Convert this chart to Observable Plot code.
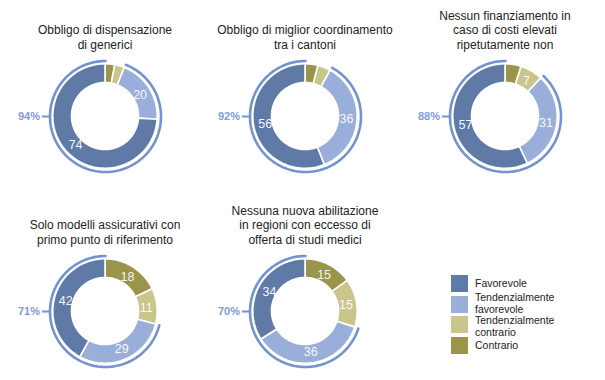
<!DOCTYPE html>
<html>
<head>
<meta charset="utf-8">
<script src="https://cdn.jsdelivr.net/npm/d3@7"></script>
<script src="https://cdn.jsdelivr.net/npm/@observablehq/plot@0.6"></script>
<style>
  html, body { margin: 0; padding: 0; background: #fff; }
  #root { position: relative; width: 605px; height: 380px; overflow: hidden;
          font-family: "Liberation Sans", Arial, sans-serif; color: #222; }
  .title { position: absolute; width: 200px; text-align: center; font-size: 12px;
           line-height: 14.5px; }
  .donut { position: absolute; }
  .legend { position: absolute; left: 451px; top: 275px; font-size: 10.5px; }
  .lrow { position: relative; height: 17px; margin-bottom: 3.7px; }
  .sw { position: absolute; left: 0; top: 0; width: 17px; height: 17px; }
  .lt { position: absolute; left: 24px; top: 50%;
        line-height: 11.8px; white-space: nowrap; }
</style>
</head>
<body>
<div id="root"></div>
<script>
// ---- data ----
const categories = ["Contrario", "Tendenzialmente contrario", "Tendenzialmente favorevole", "Favorevole"];
const legendLabels = [["Favorevole"], ["Tendenzialmente", "favorevole"], ["Tendenzialmente", "contrario"], ["Contrario"]];
const legendOrder = ["Favorevole", "Tendenzialmente favorevole", "Tendenzialmente contrario", "Contrario"];
const colors = ["#9b954c", "#c9c58b", "#99aed8", "#5f7aa7"];
const titles = [
  ["Obbligo di dispensazione", "di generici"],
  ["Obbligo di miglior coordinamento", "tra i cantoni"],
  ["Nessun finanziamento in", "caso di costi elevati", "ripetutamente non"],
  ["Solo modelli assicurativi con", "primo punto di riferimento"],
  ["Nessuna nuova abilitazione", "in regioni con eccesso di", "offerta di studi medici"]
];
const contrario      = [3, 4, 5, 18, 15];
const tendContrario  = [3, 4, 7, 11, 15];
const tendFavorevole = [20, 36, 31, 29, 36];
const favorevole     = [74, 56, 57, 42, 34];
const favorTotals    = ["94%", "92%", "88%", "71%", "70%"];

// ---- layout / style ----
const centers = [[105, 116], [305, 116], [505, 116], [105, 310.5], [305, 310.5]];
const titleBottoms = [52, 52, 52, 247, 247];
const R = 52.2, r = 33.5, arcR = 55.5, labelR = 41;
const arcColor = "#7393d0", pctColor = "#7f9cd6";
const W = 200, H = 150;
const legendShift = [0, -0.6, 2.1, 0];

const root = document.getElementById("root");

for (let k = 0; k < 5; k++) {
  const vals = [contrario[k], tendContrario[k], tendFavorevole[k], favorevole[k]];
  const total = d3.sum(vals);
  const ring = [], labels = [];
  let acc = 0;
  vals.forEach((v, i) => {
    const s = acc / total, e = (acc + v) / total;
    const n = Math.max(2, Math.ceil((e - s) * 200));
    for (let j = 0; j <= n; j++) {
      const a = 2 * Math.PI * (s + (e - s) * j / n);
      ring.push({cat: categories[i], xo: R * Math.sin(a), yo: R * Math.cos(a), xi: r * Math.sin(a), yi: r * Math.cos(a)});
    }
    if (v >= 7) {
      const m = 2 * Math.PI * (s + e) / 2;
      labels.push({x: labelR * Math.sin(m), y: labelR * Math.cos(m), t: String(v)});
    }
    acc += v;
  });
  // outer arc over favourable share
  const favStart = (contrario[k] + tendContrario[k]) / total;
  const arc = [];
  const na = 200;
  for (let j = 0; j <= na; j++) {
    const a = 2 * Math.PI * (favStart + (1 - favStart) * j / na);
    arc.push({x: arcR * Math.sin(a), y: arcR * Math.cos(a)});
  }

  const plot = Plot.plot({
    width: W, height: H, margin: 0,
    x: {domain: [-W / 2, W / 2], axis: null},
    y: {domain: [-H / 2, H / 2], axis: null},
    color: {domain: categories, range: colors},
    style: {background: "transparent", overflow: "visible", fontFamily: "Liberation Sans, Arial, sans-serif"},
    marks: [
      Plot.area(ring, {x1: "xo", y1: "yo", x2: "xi", y2: "yi", z: "cat", fill: "cat", stroke: "#fff", strokeWidth: 1.6}),
      Plot.line(arc, {x: "x", y: "y", stroke: arcColor, strokeWidth: 2.6}),
      Plot.link([{x1: -(arcR + 8), x2: -arcR, y: 0}], {x1: "x1", x2: "x2", y1: "y", y2: "y", stroke: arcColor, strokeWidth: 2}),
      Plot.text([{x: -(arcR + 10), y: 0, t: favorTotals[k]}], {x: "x", y: "y", text: "t", textAnchor: "end", fill: pctColor, fontWeight: "bold", fontSize: 11}),
      Plot.text(labels, {x: "x", y: "y", text: "t", fill: "#fff", fontSize: 12.5, fillOpacity: 0.95})
    ]
  });
  const div = document.createElement("div");
  div.className = "donut";
  div.style.left = (centers[k][0] - W / 2) + "px";
  div.style.top = (centers[k][1] - H / 2) + "px";
  div.appendChild(plot);
  root.appendChild(div);

  const t = document.createElement("div");
  t.className = "title";
  t.style.left = (centers[k][0] - 100) + "px";
  t.style.bottom = (380 - titleBottoms[k]) + "px";
  t.innerHTML = titles[k].join("<br>");
  root.appendChild(t);
}

// legend
const leg = document.createElement("div");
leg.className = "legend";
legendOrder.forEach((c, i) => {
  const row = document.createElement("div");
  row.className = "lrow";
  const sw = document.createElement("div");
  sw.className = "sw";
  sw.style.background = colors[categories.indexOf(c)];
  const lt = document.createElement("div");
  lt.className = "lt";
  lt.style.transform = `translateY(calc(-50% + ${legendShift[i]}px))`;
  lt.innerHTML = legendLabels[i].join("<br>");
  row.appendChild(sw); row.appendChild(lt);
  leg.appendChild(row);
});
root.appendChild(leg);
</script>
</body>
</html>
